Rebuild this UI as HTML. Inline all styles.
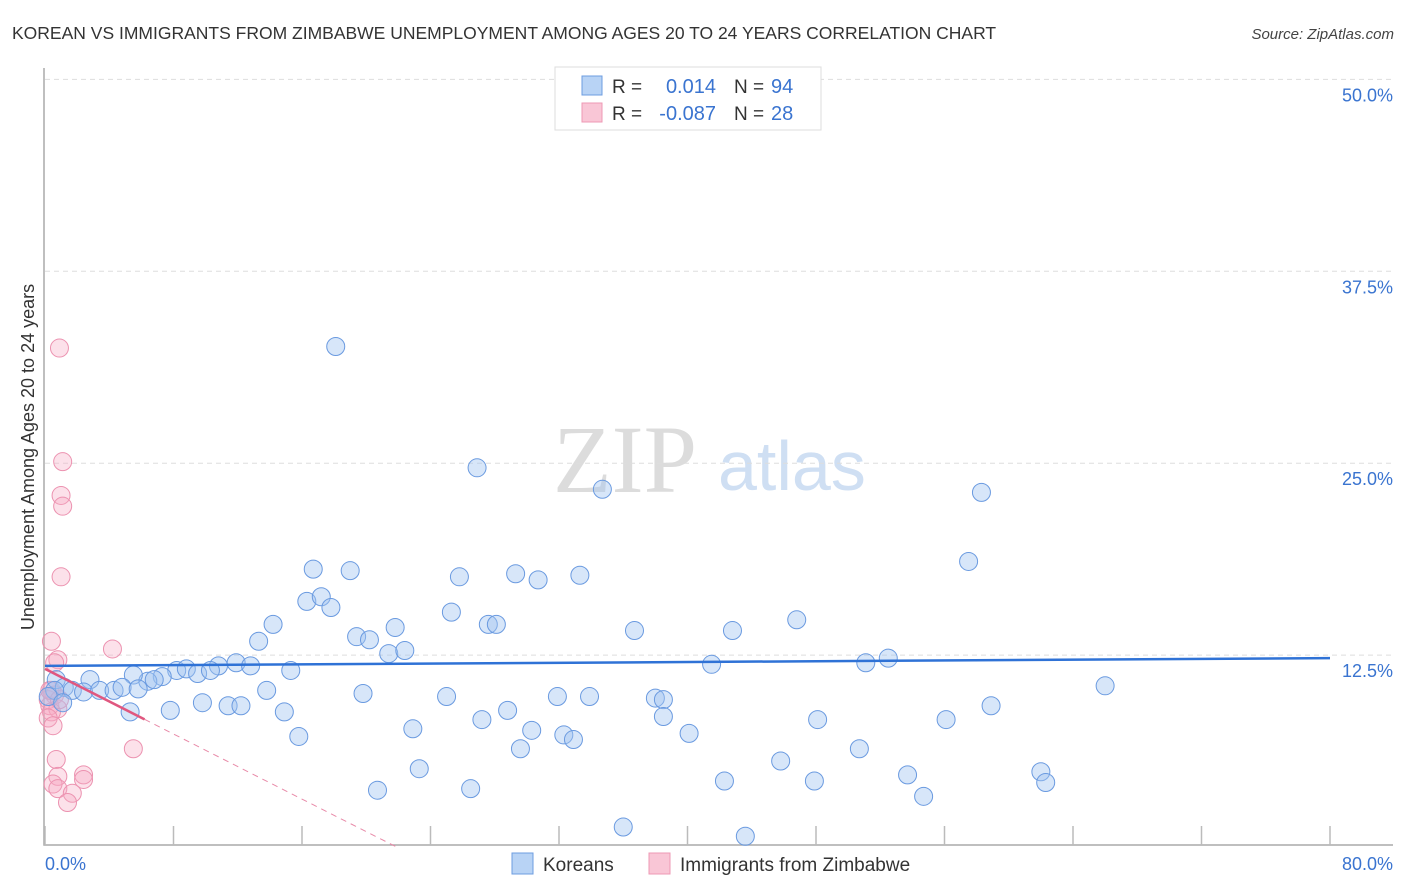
<!DOCTYPE html>
<html><head><meta charset="utf-8"><style>
body{margin:0;background:#fff;font-family:"Liberation Sans",sans-serif}
</style></head><body>
<svg id="chart" width="1406" height="892" xmlns="http://www.w3.org/2000/svg" style="display:block">
<text x="12" y="39" font-size="17.5" fill="#333">KOREAN VS IMMIGRANTS FROM ZIMBABWE UNEMPLOYMENT AMONG AGES 20 TO 24 YEARS CORRELATION CHART</text>
<text x="1394" y="39" font-size="15" fill="#444" text-anchor="end" font-style="italic">Source: ZipAtlas.com</text>
<g>
<text x="553" y="492" font-family="Liberation Serif,serif" font-size="96" fill="#dcdcdc">ZIP</text>
<text x="718" y="490" font-size="70" fill="#cfdff3">atlas</text>
</g>
<g id="grid"></g>
<g id="axes"></g>
<g id="marks"></g>
<text transform="translate(34,457) rotate(-90)" font-size="18" fill="#333" text-anchor="middle">Unemployment Among Ages 20 to 24 years</text>
<g>
<rect x="555" y="67" width="266" height="63" fill="#fff" stroke="#ddd"/>
<rect x="582" y="76" width="20" height="19" fill="#b8d3f5" stroke="#6d9de0"/>
<rect x="582" y="103" width="20" height="19" fill="#f9c6d6" stroke="#ee98b4"/>
<text x="612" y="93" font-size="19" fill="#333">R =</text>
<text x="716" y="93" font-size="20" fill="#3a74d0" text-anchor="end">0.014</text>
<text x="734" y="93" font-size="19" fill="#333">N =</text>
<text x="771" y="93" font-size="20" fill="#3a74d0">94</text>
<text x="612" y="120" font-size="19" fill="#333">R =</text>
<text x="716" y="120" font-size="20" fill="#3a74d0" text-anchor="end">-0.087</text>
<text x="734" y="120" font-size="19" fill="#333">N =</text>
<text x="771" y="120" font-size="20" fill="#3a74d0">28</text>
</g>
<g>
<rect x="512" y="853" width="21" height="21" fill="#b8d3f5" stroke="#6d9de0"/>
<text x="543" y="871" font-size="19" fill="#333">Koreans</text>
<rect x="649" y="853" width="21" height="21" fill="#f9c6d6" stroke="#ee98b4"/>
<text x="680" y="871" font-size="19" fill="#333">Immigrants from Zimbabwe</text>
</g>
</svg>
<script>
const yTicks=[12.5,25,37.5,50];
const yTickLabels=["12.5%","25.0%","37.5%","50.0%"];
const xTicks=[0,8,16,24,32,40,48,56,64,72,80];
const xEndLabels=["0.0%","80.0%"];
const koreanX=[18.1,40.2,47.0,26.9,34.7,58.3,57.5,16.7,19.0,25.8,29.3,30.7,33.3,16.3,17.2,17.8,25.3,14.2,21.8,27.6,28.1,36.7,42.8,46.8,13.3,19.4,20.2,21.4,22.4,11.9,12.8,10.8,8.2,8.8,9.5,7.3,6.4,6.8,5.5,2.8,0.7,1.2,1.7,2.4,3.4,4.3,4.8,5.8,10.3,15.3,13.8,19.8,25.0,31.9,33.9,38.0,38.5,41.5,51.1,52.5,66.0,5.3,7.8,9.8,11.4,12.2,14.9,15.8,22.9,27.2,28.8,30.3,29.6,32.3,32.9,38.5,40.1,48.1,50.7,56.1,58.9,23.3,45.8,42.3,47.9,53.7,54.7,20.7,26.5,36.0,43.6,62.0,62.3,0.6,0.2,1.1];
const koreanY=[32.6,49.9,47.5,24.7,23.3,23.1,18.6,18.1,18.0,17.6,17.8,17.4,17.7,16.0,16.3,15.6,15.3,14.5,14.3,14.5,14.5,14.1,14.1,14.8,13.4,13.7,13.5,12.6,12.8,12.0,11.8,11.8,11.5,11.6,11.3,11.1,10.8,10.9,11.2,10.9,10.9,10.4,10.2,10.1,10.2,10.2,10.4,10.3,11.5,11.5,10.2,10.0,9.8,9.8,9.8,9.7,9.6,11.9,12.0,12.3,10.5,8.8,8.9,9.4,9.2,9.2,8.8,7.2,7.7,8.3,8.9,7.6,6.4,7.3,7.0,8.5,7.4,8.3,6.4,8.3,9.2,5.1,5.6,4.3,4.3,4.7,3.3,3.7,3.8,1.3,0.7,4.9,4.2,10.2,9.8,9.4];
const zimX=[0.9,1.1,1.0,1.1,1.0,0.4,0.8,0.6,4.2,0.4,0.6,0.2,0.3,0.8,0.4,0.2,0.5,5.5,0.7,0.8,2.4,2.4,0.5,0.8,1.7,1.4,0.3,0.9];
const zimY=[32.5,25.1,22.9,22.2,17.6,13.4,12.2,12.0,12.9,10.2,9.9,9.6,9.2,9.0,8.8,8.4,7.9,6.4,5.7,4.6,4.7,4.4,4.1,3.8,3.5,2.9,10.2,9.6];
const koreanTrend=[11.8,12.3];
const zimTrend=[11.6,-0.53];
const zimSolidEnd=6.2;
const NS="http://www.w3.org/2000/svg";
const sx=v=>45+v*1285/80;
const sy=v=>847-v*191.9/12.5;
function mk(tag,attrs,parent){const e=document.createElementNS(NS,tag);for(const k in attrs)e.setAttribute(k,attrs[k]);parent.appendChild(e);return e;}
const grid=document.getElementById('grid'),axes=document.getElementById('axes'),marks=document.getElementById('marks');
yTicks.forEach((t,i)=>{
 const l=mk('line',{x1:45,x2:1393,y1:sy(t),y2:sy(t),stroke:'#ddd','stroke-dasharray':'5,4'},grid);
 
 
 const tx=mk('text',{x:1393,y:sy(t)+22,'font-size':18,fill:'#3a74d0','text-anchor':'end'},axes);
 tx.textContent=yTickLabels[i];
 
 
});
const ax=mk('path',{d:'M44,68V845H1393',fill:'none',stroke:'#aaa','stroke-width':1.5},axes);


xTicks.forEach(t=>{
 const l=mk('line',{x1:sx(t),x2:sx(t),y1:826,y2:845,stroke:'#bbb','stroke-width':1.5},axes);
 
 
});
[[0,'start',45],[80,'end',1393]].forEach((a,i)=>{
 const tx=mk('text',{x:a[2],y:870,'font-size':18,fill:'#3a74d0','text-anchor':a[1]},axes);
 tx.textContent=xEndLabels[i];
 
 
});
zimX.forEach((x,i)=>{
 const c=mk('circle',{cx:sx(x),cy:sy(zimY[i]),r:9,fill:'rgba(246,170,196,0.35)',stroke:'#ec92b0','stroke-width':1},marks);
 
 
});
koreanX.forEach((x,i)=>{
 const c=mk('circle',{cx:sx(x),cy:sy(koreanY[i]),r:9,fill:'rgba(160,196,240,0.42)',stroke:'#6a9ae0','stroke-width':1},marks);
 
 
});
const bt=mk('line',{x1:sx(0),y1:sy(koreanTrend[0]),x2:sx(80),y2:sy(koreanTrend[1]),stroke:'#2f72d6','stroke-width':2.5},marks);


const zEnd=-zimTrend[0]/zimTrend[1];
const zs=mk('line',{x1:sx(0),y1:sy(zimTrend[0]),x2:sx(zimSolidEnd),y2:sy(zimTrend[0]+zimTrend[1]*zimSolidEnd),stroke:'#e0577f','stroke-width':2.5},marks);


const zd=mk('line',{x1:sx(zimSolidEnd),y1:sy(zimTrend[0]+zimTrend[1]*zimSolidEnd),x2:sx(zEnd),y2:sy(0),stroke:'#e88aa8','stroke-width':1,'stroke-dasharray':'6,5'},marks);


</script>
</body></html>
